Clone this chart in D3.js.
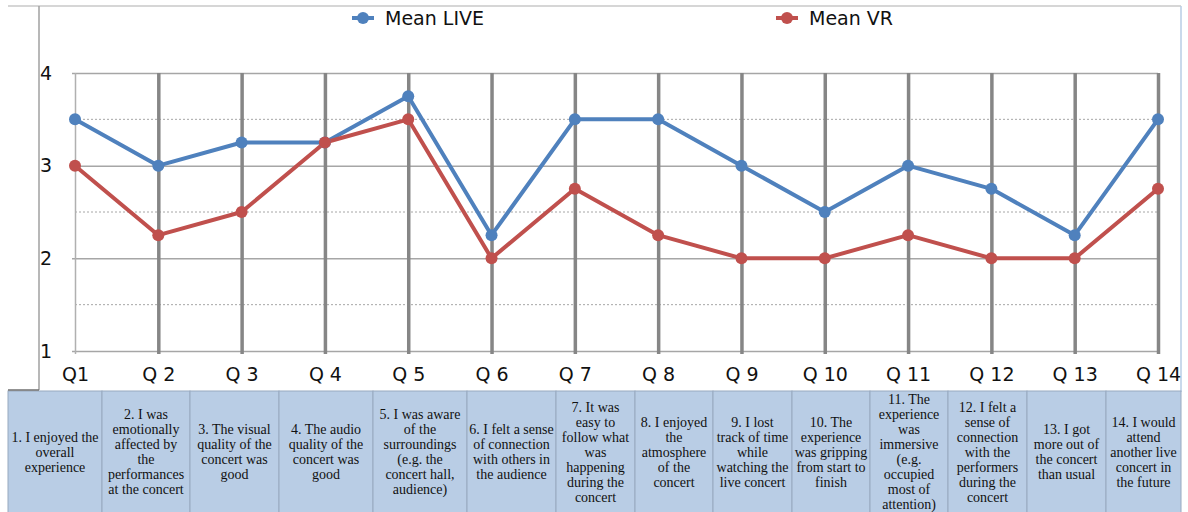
<!DOCTYPE html>
<html>
<head>
<meta charset="utf-8">
<script src="https://cdn.jsdelivr.net/npm/d3@7"></script>
<style>
  body { margin: 0; background: #fff; }
  svg { display: block; }
</style>
</head>
<body>
<svg id="chart" width="1188" height="512"></svg>
<script>
// question codes shown on the x axis
const questions = ['Q1', 'Q 2', 'Q 3', 'Q 4', 'Q 5', 'Q 6', 'Q 7', 'Q 8', 'Q 9', 'Q 10', 'Q 11', 'Q 12', 'Q 13', 'Q 14'];

// mean scores
const meanLive = [3.5, 3.0, 3.25, 3.25, 3.75, 2.25, 3.5, 3.5, 3.0, 2.5, 3.0, 2.75, 2.25, 3.5];
const meanVR = [3.0, 2.25, 2.5, 3.25, 3.5, 2.0, 2.75, 2.25, 2.0, 2.0, 2.25, 2.0, 2.0, 2.75];

const yTicks = [1, 2, 3, 4];
const yHalfTicks = [1.5, 2.5, 3.5];

// question text under each column, already broken in lines
const questionText = [
    ['1. I enjoyed the', 'overall', 'experience'],
    ['2. I was', 'emotionally', 'affected by', 'the', 'performances', 'at the concert'],
    ['3. The visual', 'quality of the', 'concert was', 'good'],
    ['4. The audio', 'quality of the', 'concert was', 'good'],
    ['5. I was aware', 'of the', 'surroundings', '(e.g. the', 'concert hall,', 'audience)'],
    ['6. I felt a sense', 'of connection', 'with others in', 'the audience'],
    ['7. It was', 'easy to', 'follow what', 'was', 'happening', 'during the', 'concert'],
    ['8. I enjoyed', 'the', 'atmosphere', 'of the', 'concert'],
    ['9. I lost', 'track of time', 'while', 'watching the', 'live concert'],
    ['10. The', 'experience', 'was gripping', 'from start to', 'finish'],
    ['11. The', 'experience', 'was', 'immersive', '(e.g.', 'occupied', 'most of', 'attention)'],
    ['12. I felt a', 'sense of', 'connection', 'with the', 'performers', 'during the', 'concert'],
    ['13. I got', 'more out of', 'the concert', 'than usual'],
    ['14. I would', 'attend', 'another live', 'concert in', 'the future']
];
// edges of the table columns
const columnEdges = [8, 102, 190, 279, 373, 467, 556, 635, 713, 792, 870, 948, 1027, 1106, 1181];

const series = [
    { name: 'Mean LIVE', values: meanLive, color: '#4f81bd', legendX: 363 },
    { name: 'Mean VR', values: meanVR, color: '#c0504d', legendX: 787 }
];

const svg = d3.select('#chart');
const sansFont = '"DejaVu Sans", Verdana, sans-serif';

const x = d3.scalePoint().domain(questions).range([75, 1158]);
const y = d3.scaleLinear().domain([1, 4]).range([351, 73]);

// outer frame of the chart
svg.append('line').attr('x1', 8).attr('x2', 1181).attr('y1', 6).attr('y2', 6)
    .attr('stroke', '#c8c8c8').attr('stroke-width', 1.5);
svg.append('line').attr('x1', 39).attr('x2', 39).attr('y1', 6).attr('y2', 390)
    .attr('stroke', '#a0a0a0').attr('stroke-width', 1.5);
svg.append('line').attr('x1', 1181).attr('x2', 1181).attr('y1', 6).attr('y2', 392)
    .attr('stroke', '#b8cce4').attr('stroke-width', 1.5);

// dotted half gridlines
svg.append('g')
    .selectAll('line')
    .data(yHalfTicks)
    .join('line')
        .attr('x1', 75).attr('x2', 1158)
        .attr('y1', d => y(d)).attr('y2', d => y(d))
        .attr('stroke', '#a6a6a6')
        .attr('stroke-width', 1)
        .attr('stroke-dasharray', '2,2');

// y axis with solid gridlines
const yAxis = svg.append('g')
    .attr('transform', 'translate(72,0)')
    .call(d3.axisLeft(y).tickValues(yTicks).tickFormat(d3.format('d')).tickSize(-(1158 - 72)).tickPadding(24));
yAxis.select('.domain').remove();
yAxis.selectAll('line').attr('stroke', '#a6a6a6').attr('stroke-width', 1.5);
yAxis.selectAll('text')
    .attr('font-family', sansFont)
    .attr('font-size', 19)
    .attr('fill', '#111')
    .attr('text-anchor', 'start')
    .attr('x', -32);

// x axis with the vertical gridlines
const xAxis = svg.append('g')
    .attr('transform', 'translate(0,354)')
    .call(d3.axisBottom(x).tickSize(-(354 - 73)).tickPadding(14));
xAxis.select('.domain').remove();
xAxis.selectAll('line')
    .attr('stroke', (d, i) => i === 0 ? '#b0b0b0' : '#868686')
    .attr('stroke-width', (d, i) => i === 0 ? 1.5 : 3.5);
xAxis.selectAll('text')
    .attr('font-family', sansFont)
    .attr('font-size', 19)
    .attr('fill', '#111');

// lines + markers
const line = d3.line()
    .x((d, i) => x(questions[i]))
    .y(d => y(d));

series.forEach(s => {
    svg.append('path')
        .datum(s.values)
        .attr('fill', 'none')
        .attr('stroke', s.color)
        .attr('stroke-width', 4)
        .attr('stroke-linejoin', 'round')
        .attr('d', line);
});
series.forEach(s => {
    svg.append('g')
        .selectAll('circle')
        .data(s.values)
        .join('circle')
            .attr('cx', (d, i) => x(questions[i]))
            .attr('cy', d => y(d))
            .attr('r', 6)
            .attr('fill', s.color);
});

// legend
const legend = svg.append('g');
series.forEach(s => {
    legend.append('line')
        .attr('x1', s.legendX - 11).attr('x2', s.legendX + 11)
        .attr('y1', 18).attr('y2', 18)
        .attr('stroke', s.color).attr('stroke-width', 4);
    legend.append('circle')
        .attr('cx', s.legendX).attr('cy', 18).attr('r', 6)
        .attr('fill', s.color);
    legend.append('text')
        .attr('x', s.legendX + 22).attr('y', 25)
        .attr('font-family', sansFont)
        .attr('font-size', 19)
        .attr('fill', '#111')
        .text(s.name);
});

// question table under the chart
const table = svg.append('g');
const tableTop = 391;
table.selectAll('rect')
    .data(questionText)
    .join('rect')
        .attr('x', (d, i) => columnEdges[i])
        .attr('y', tableTop)
        .attr('width', (d, i) => columnEdges[i + 1] - columnEdges[i])
        .attr('height', 512 - tableTop + 5)
        .attr('fill', '#b9cde5')
        .attr('stroke', '#98a9c0')
        .attr('stroke-width', 1);
svg.append('line').attr('x1', 8).attr('x2', 39).attr('y1', 390).attr('y2', 390)
    .attr('stroke', '#6f6f6f').attr('stroke-width', 1.5);

const lineHeight = 15;
table.selectAll('text')
    .data(questionText)
    .join('text')
        .attr('font-family', '"Liberation Serif", "Times New Roman", serif')
        .attr('font-size', 14)
        .attr('fill', '#111')
        .attr('text-anchor', 'middle')
        .each(function(lines, i) {
            const cx = (columnEdges[i] + columnEdges[i + 1]) / 2;
            const startY = 452 - (lines.length - 1) * lineHeight / 2 + 4.5;
            d3.select(this).selectAll('tspan')
                .data(lines)
                .join('tspan')
                    .attr('x', cx)
                    .attr('y', (l, j) => startY + j * lineHeight)
                    .text(l => l);
        });
</script>
</body>
</html>
